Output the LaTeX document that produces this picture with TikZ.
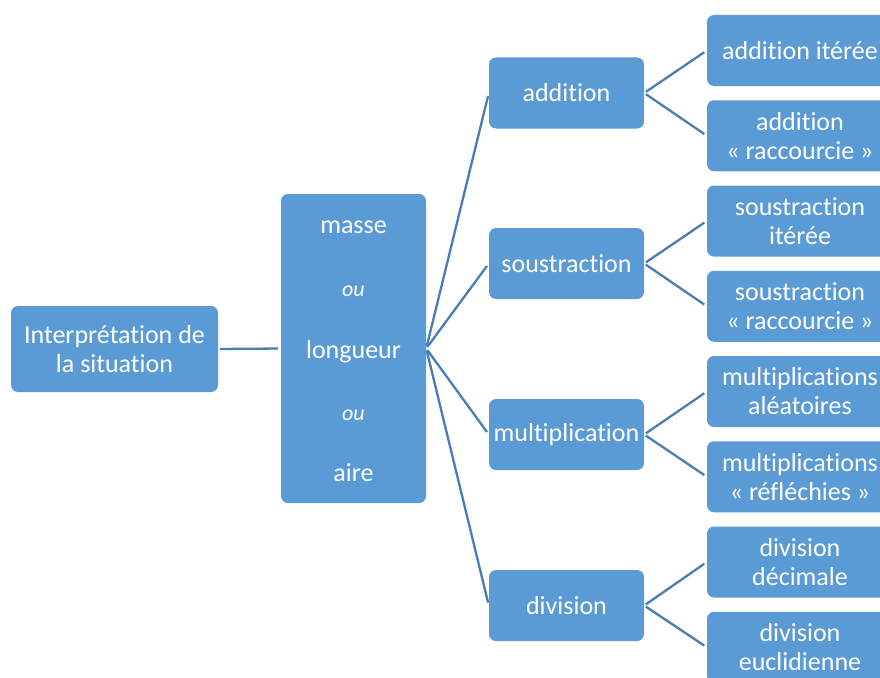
\documentclass[tikz,border=0pt]{standalone}
\usepackage{fontspec}
\setmainfont{Carlito}[Ligatures={NoCommon,NoDiscretionary,NoContextual}]
\definecolor{boxblue}{HTML}{5B9BD5}
\definecolor{lineblue}{HTML}{4A7DB5}
\begin{document}
\begin{tikzpicture}[x=1pt,y=-1pt,
  box/.style={draw=none, fill=boxblue, rounded corners=7pt, text=white, align=center,
              font=\fontsize{26}{29}\selectfont, inner sep=0pt},
  lvltwo/.style={box, minimum width=155pt, minimum height=71pt},
  lvlthree/.style={box, minimum width=186pt, minimum height=71pt},
  midtext/.style={anchor=base, text=white, font=\fontsize{26}{29}\selectfont, inner sep=0pt},
  outext/.style={anchor=base, text=white, font=\fontsize{22}{26}\selectfont\itshape, inner sep=0pt},
  link/.style={draw=lineblue, line width=2.3pt, shorten <=2pt, shorten >=3pt}]
\clip (0,0) rectangle (880,677);
% root
\node[box, minimum width=207pt, minimum height=86pt] (root) at (114.5,349) {Interprétation de\\la situation};
% middle
\node[box, minimum width=145pt, minimum height=309pt] (mid) at (353.5,348.5) {};
\node[midtext] (masse) at (353.5,233) {masse};
\node[outext] (ou1) at (353.5,296) {ou};
\node[midtext] (longueur) at (353.5,358) {longueur};
\node[outext] (ou2) at (353.5,420) {ou};
\node[midtext] (aire) at (353.5,481) {aire};
% level 2
\node[lvltwo] (add) at (566.5,93) {addition};
\node[lvltwo] (sous) at (566.5,263.5) {soustraction};
\node[lvltwo] (mult) at (566.5,434.5) {multiplication};
\node[lvltwo] (div) at (566.5,605.5) {division};
% level 3
\node[lvlthree] (a1) at (800,50.5) {addition itérée};
\node[lvlthree] (a2) at (800,135.75) {addition\\« raccourcie »};
\node[lvlthree] (s1) at (800,221) {soustraction\\itérée};
\node[lvlthree] (s2) at (800,306.25) {soustraction\\« raccourcie »};
\node[lvlthree] (m1) at (800,391.5) {multiplications\\aléatoires};
\node[lvlthree] (m2) at (800,476.75) {multiplications\\« réfléchies »};
\node[lvlthree] (d1) at (800,562) {division\\décimale};
\node[lvlthree] (d2) at (800,647.25) {division\\euclidienne};
% connectors
\draw[link] (root.east) -- (mid.west);
\foreach \n in {add,sous,mult,div} \draw[link] (mid.east) -- (\n.west);
\draw[link] (add.east) -- (a1.west);
\draw[link] (add.east) -- (a2.west);
\draw[link] (sous.east) -- (s1.west);
\draw[link] (sous.east) -- (s2.west);
\draw[link] (mult.east) -- (m1.west);
\draw[link] (mult.east) -- (m2.west);
\draw[link] (div.east) -- (d1.west);
\draw[link] (div.east) -- (d2.west);
\end{tikzpicture}
\end{document}
